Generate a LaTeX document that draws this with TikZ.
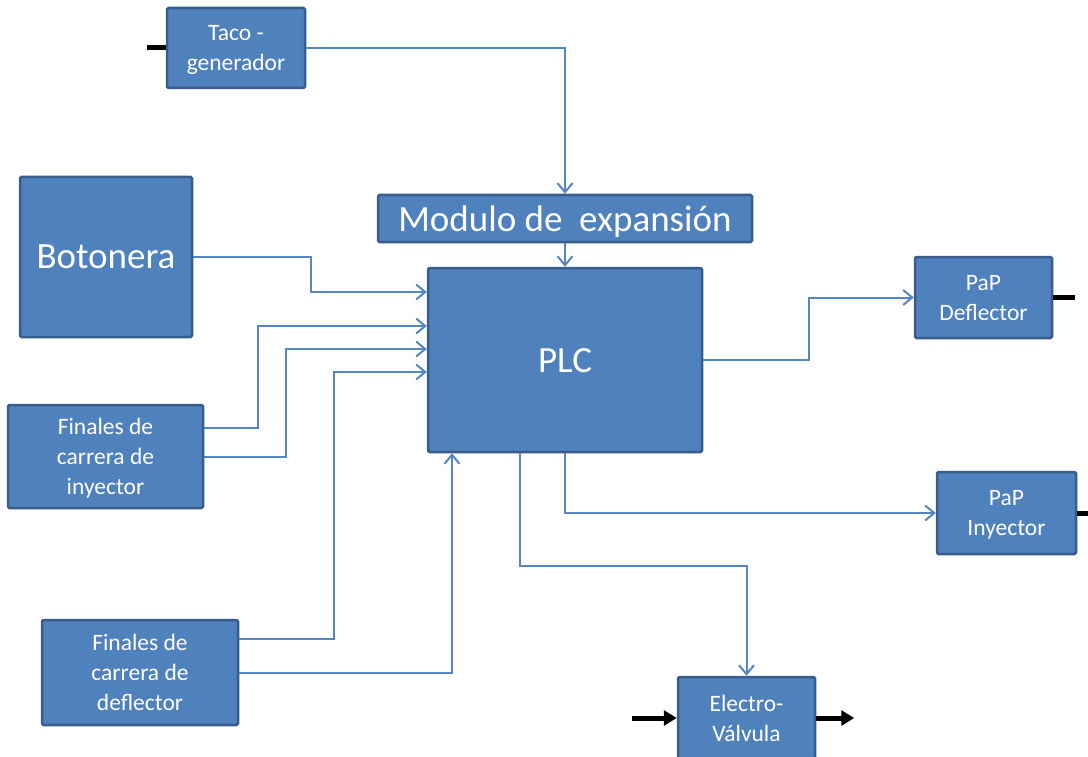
\documentclass[tikz,border=0pt]{standalone}
\usepackage{fontspec}
\setmainfont{Carlito}
\usetikzlibrary{arrows.meta}
\definecolor{boxfill}{RGB}{79,129,189}
\definecolor{boxline}{RGB}{56,93,138}
\definecolor{wire}{RGB}{84,134,194}
\tikzstyle{block} = [draw=boxline, line width=2.5pt, fill=boxfill, rounded corners=1.5pt,
    text=white, align=center, inner sep=0pt, text depth=0pt, font=\fontsize{23.5}{30}\selectfont]
\tikzstyle{bigblock} = [block, font=\fontsize{37}{40}\selectfont]
\tikzstyle{wire} = [draw=wire, line width=2pt, -{Straight Barb[length=9pt,width=15pt,line width=2pt]}]
\tikzstyle{stub} = [draw=black, line width=5pt]
\tikzstyle{flow} = [stub, -{Triangle[length=13pt,width=15pt]}]

\begin{document}
\begin{tikzpicture}[x=1pt, y=-1pt]
    \fill[white] (0,0) rectangle (1088,757);
    \useasboundingbox (0,0) rectangle (1088,757);

    \node[block, minimum width=138pt, minimum height=80pt] (taco) at (236,48) {Taco -\\generador};
    \node[bigblock, minimum width=374pt, minimum height=47pt] (modulo) at (565,218.5) {Modulo de\ \ expansión};
    \node[bigblock, minimum width=172pt, minimum height=160pt] (botonera) at (106,257) {Botonera};
    \node[bigblock, minimum width=274pt, minimum height=184pt] (plc) at (565,360) {PLC};
    \node[block, minimum width=195pt, minimum height=103pt] (fininy) at (105.5,456.5) {Finales de\\carrera de\\inyector};
    \node[block, minimum width=196pt, minimum height=105pt] (findef) at (140,672.5) {Finales de\\carrera de\\deflector};
    \node[block, minimum width=137pt, minimum height=81pt] (papdef) at (983.5,297.5) {PaP\\Deflector};
    \node[block, minimum width=139pt, minimum height=82pt] (papiny) at (1006.5,513) {PaP\\Inyector};
    \node[block, minimum width=137pt, minimum height=82pt] (valvula) at (746.5,718) {Electro-\\Válvula};

    \draw[wire] (taco.east) -| (modulo.north);
    \draw[wire] (modulo.south) -- (plc.north);
    \draw[wire] (botonera.east) -- ++(118,0) |- ([yshift=68pt]plc.west);
    \draw[wire] ([yshift=28.5pt]fininy.east) -- ++(54,0) |- ([yshift=34pt]plc.west);
    \draw[wire] (fininy.east) -- ++(82,0) |- ([yshift=11pt]plc.west);
    \draw[wire] ([yshift=33.5pt]findef.east) -- ++(95,0) |- ([yshift=-12pt]plc.west);
    \draw[wire] (findef.east) -| ([xshift=-113pt]plc.south);
    \draw[wire] (plc.east) -- ++(106,0) |- (papdef.west);
    \draw[wire] (plc.south) |- (papiny.west);
    \draw[wire] ([xshift=-45pt]plc.south) -- ++(0,113) -| (valvula.north);

    \draw[stub] (taco.west) -- ++(-19,0);
    \draw[stub] (papdef.east) -- ++(22,0);
    \draw[stub] (papiny.east) -- ++(14,0);
    \draw[flow] (632,718) -- (valvula.west);
    \draw[flow] (valvula.east) -- ++(38,0);
\end{tikzpicture}
\end{document}
